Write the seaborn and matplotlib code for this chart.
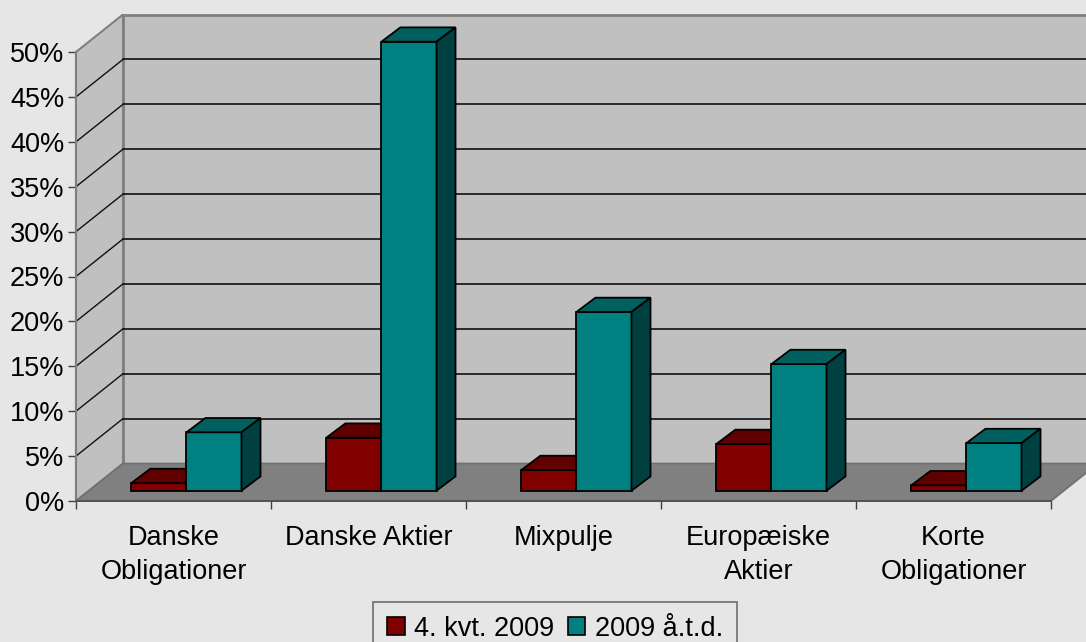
import numpy as np
import pandas as pd
import matplotlib
matplotlib.use("Agg")
import matplotlib.pyplot as plt
from matplotlib.patches import Polygon, Patch
import seaborn as sns

# data
categories = ["Danske\nObligationer", "Danske Aktier", "Mixpulje",
              "Europæiske\nAktier", "Korte\nObligationer"]
series_names = ["4. kvt. 2009", "2009 å.t.d."]
q4_2009 = [0.85, 5.9, 2.3, 5.2, 0.6]
ytd_2009 = [6.5, 50.0, 19.9, 14.1, 5.3]
y_ticks = list(range(0, 55, 5))

BG = "#e6e6e6"
WALL = "#c0c0c0"
FLOOR = "#808080"
front_cols = ["#800000", "#008080"]
top_cols = ["#600000", "#006060"]
side_cols = ["#400000", "#004040"]

sns.set_style("white")
plt.rcParams["font.family"] = ["Liberation Sans", "DejaVu Sans"]
plt.rcParams["text.color"] = "black"
plt.rcParams["xtick.labelcolor"] = "black"
plt.rcParams["ytick.labelcolor"] = "black"

W, H = 1086, 642
fig = plt.figure(figsize=(W / 100, H / 100), dpi=100, facecolor=BG)
ax = fig.add_axes([0, 0, 1, 1])
ax.set_facecolor(BG)

# pixel layout of the front plane
px_x0, px_cat = 76, 195.0      # left edge of plot floor, px per category
px_y0, px_pct = 501, 8.98      # y pixel of 0%, px per percent
xlim = (-0.5 - px_x0 / px_cat, -0.5 + (W - px_x0) / px_cat)
ylim = (-(H - px_y0) / px_pct, px_y0 / px_pct)

# oblique depth (full depth of the box), bar front depth and bar thickness
dx, dy = 47 / px_cat, 37.5 / px_pct
ox, oy = 0.275 * dx, 0.275 * dy
bx, by = 19 / px_cat, 14.3 / px_pct

n = len(categories)
xa, xb = -0.5, n - 0.5
top = 50

# walls and floor
ax.add_patch(Polygon([(xa + dx, dy), (xb + dx, dy), (xb + dx, top + dy), (xa + dx, top + dy)],
                     closed=True, fc=WALL, ec="#808080", lw=2, zorder=0))
ax.add_patch(Polygon([(xa, 0), (xa + dx, dy), (xa + dx, top + dy), (xa, top)],
                     closed=True, fc=WALL, ec="#808080", lw=1.5, zorder=0))
ax.add_patch(Polygon([(xa, 0), (xb, 0), (xb + dx, dy), (xa + dx, dy)],
                     closed=True, fc=FLOOR, ec="#707070", lw=1.2, zorder=0.2))
for v in y_ticks[1:-1]:
    ax.plot([xa + dx, xb + dx], [v + dy, v + dy], color="#101010", lw=1.2, zorder=0.5)
    ax.plot([xa, xa + dx], [v, v + dy], color="#101010", lw=1.0, zorder=0.5)

df = pd.DataFrame({
    "category": categories * 2,
    "series": [series_names[0]] * n + [series_names[1]] * n,
    "value": q4_2009 + ytd_2009,
})
sns.barplot(data=df, x="category", y="value", hue="series", order=categories,
            hue_order=series_names, palette=front_cols, width=0.565,
            errorbar=None, edgecolor="black", linewidth=1.3, saturation=1,
            legend=False, ax=ax)

# turn the flat bars into boxes
for k, cont in enumerate(ax.containers):
    for p in cont.patches:
        x, w, h = p.get_x(), p.get_width(), p.get_height()
        x0, y0 = x + ox, oy
        p.set_x(x0)
        p.set_y(y0)
        p.set_zorder(2 + k)
        ax.add_patch(Polygon([(x0, y0 + h), (x0 + w, y0 + h), (x0 + w + bx, y0 + h + by),
                              (x0 + bx, y0 + h + by)], closed=True, fc=top_cols[k],
                             ec="black", lw=1.3, zorder=2 + k))
        ax.add_patch(Polygon([(x0 + w, y0), (x0 + w + bx, y0 + by), (x0 + w + bx, y0 + h + by),
                              (x0 + w, y0 + h)], closed=True, fc=side_cols[k],
                             ec="black", lw=1.3, zorder=2 + k))

ax.set_xlim(*xlim)
ax.set_ylim(*ylim)
ax.set_xlabel("")
ax.set_ylabel("")

for s in ["top", "right"]:
    ax.spines[s].set_visible(False)
ax.spines["left"].set_position(("data", xa))
ax.spines["left"].set_bounds(0, top)
ax.spines["left"].set_color("#808080")
ax.spines["left"].set_linewidth(1.5)
ax.spines["bottom"].set_position(("data", 0))
ax.spines["bottom"].set_bounds(xa, xb)
ax.spines["bottom"].set_color("#505050")
ax.spines["bottom"].set_linewidth(1.3)

ax.set_yticks(y_ticks)
ax.set_yticklabels([f"{v}%" for v in y_ticks])
ax.tick_params(axis="y", direction="out", length=5.5, width=1, color="#404040",
               pad=3, labelsize=19.5, left=True, labelcolor="black")

ax.set_xticks(np.arange(n + 1) - 0.5)
ax.set_xticklabels([])
ax.set_xticks(np.arange(n), minor=True)
ax.set_xticklabels(categories, minor=True, fontsize=19.5, linespacing=1.42)
ax.tick_params(axis="x", which="major", direction="out", length=6, width=1,
               color="#404040", bottom=True)
ax.tick_params(axis="x", which="minor", length=0, pad=17, bottom=True,
               labelcolor="black")

handles = [Patch(fc=front_cols[i], ec="black", lw=1.2) for i in range(2)]
leg = ax.legend(handles, series_names, loc="upper center", ncol=2,
                bbox_to_anchor=(555 / W, 1 - 602 / H), bbox_transform=fig.transFigure,
                fontsize=19.5, frameon=True, fancybox=False, handlelength=0.65,
                handleheight=0.65, handletextpad=0.35, columnspacing=0.5,
                borderpad=0.5, borderaxespad=0)
leg.get_frame().set_facecolor(BG)
leg.get_frame().set_edgecolor("#505050")
leg.get_frame().set_linewidth(1.2)
for t in leg.get_texts():
    t.set_color("black")

fig.savefig("out.png", dpi=100, facecolor=BG)
